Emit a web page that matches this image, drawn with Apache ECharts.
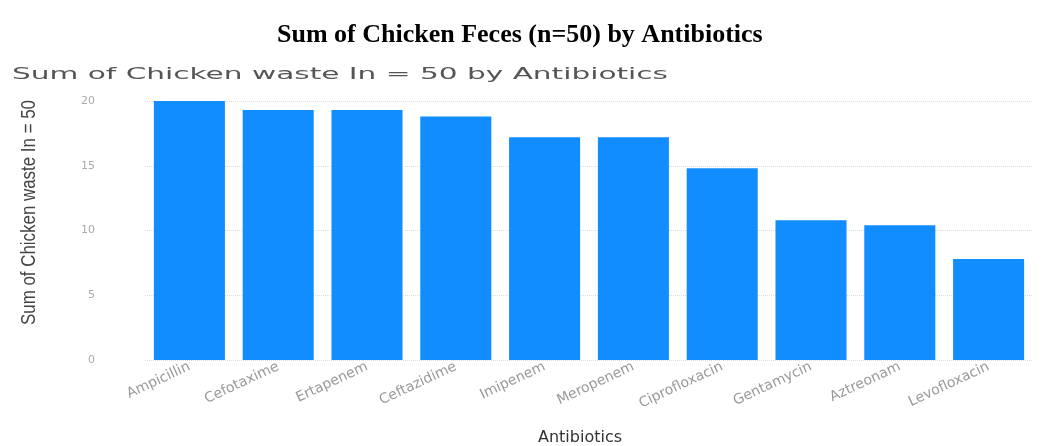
<!DOCTYPE html>
<html>
<head>
<meta charset="utf-8">
<script src="https://cdn.jsdelivr.net/npm/echarts@6/dist/echarts.min.js"></script>
<style>
  html, body { margin: 0; padding: 0; background: #fff; }
  #chart { width: 1054px; height: 446px; }
</style>
</head>
<body>
<div id="chart"></div>
<script>
const antibiotics = ['Ampicillin', 'Cefotaxime', 'Ertapenem', 'Ceftazidime', 'Imipenem',
  'Meropenem', 'Ciprofloxacin', 'Gentamycin', 'Aztreonam', 'Levofloxacin'];
const chickenWaste = [20, 19.3, 19.3, 18.8, 17.2, 17.2, 14.8, 10.8, 10.4, 7.8];
const yTicks = [0, 5, 10, 15, 20];

const subtitleText = 'Sum of Chicken waste In = 50 by Antibiotics';
const yNameText = 'Sum of Chicken waste In = 50';

// stretch / squeeze the texts to the widths seen in the picture
function measure(str, font) {
  const ctx = document.createElement('canvas').getContext('2d');
  ctx.font = font;
  return ctx.measureText(str).width;
}
const subScale = 656 / measure(subtitleText, '16px "DejaVu Sans"');
const yNameScale = 225 / measure(yNameText, '20px "Liberation Sans"');

const chart = echarts.init(document.getElementById('chart'));

const chartOptions = {
  animation: false,
  title: {
    text: 'Sum of Chicken Feces (n=50) by Antibiotics',
    left: 272,
    top: 17,
    textStyle: {
      fontFamily: 'Liberation Serif',
      fontSize: 26,
      fontWeight: 'bold',
      color: '#000'
    }
  },
  graphic: [
    {
      type: 'text',
      x: 12,
      y: 67,
      scaleX: subScale,
      style: {
        text: subtitleText,
        font: '16px "DejaVu Sans"',
        fill: '#555'
      }
    },
    {
      type: 'text',
      x: 19,
      y: 325,
      rotation: Math.PI / 2,
      scaleX: yNameScale,
      style: {
        text: yNameText,
        font: '20px "Liberation Sans"',
        fill: '#444'
      }
    }
  ],
  grid: {
    left: 145,
    right: 21,
    top: 101,
    bottom: 86,
    outerBoundsMode: 'none',
    containLabel: false
  },
  xAxis: {
    type: 'category',
    data: antibiotics,
    name: 'Antibiotics',
    nameLocation: 'middle',
    nameGap: 70,
    nameTextStyle: {
      fontFamily: 'DejaVu Sans',
      fontSize: 16,
      color: '#333',
      padding: [0, 18, 0, 0]
    },
    axisLine: { show: false },
    axisTick: { show: false },
    axisLabel: {
      rotate: 25,
      margin: 6,
      fontFamily: 'DejaVu Sans',
      fontSize: 14,
      color: '#999'
    }
  },
  yAxis: {
    type: 'value',
    min: yTicks[0],
    max: yTicks[yTicks.length - 1],
    interval: 5,
    axisLabel: {
      margin: 50,
      fontFamily: 'DejaVu Sans',
      fontSize: 11,
      color: '#aaa',
      formatter: (v) => yTicks.includes(v) ? String(v) : ''
    },
    splitLine: {
      lineStyle: {
        type: 'dotted',
        color: '#ddd'
      }
    }
  },
  series: [
    {
      type: 'bar',
      data: chickenWaste,
      barCategoryGap: '20%',
      itemStyle: { color: '#118DFF' }
    }
  ]
};

chart.setOption(chartOptions);
</script>
</body>
</html>
